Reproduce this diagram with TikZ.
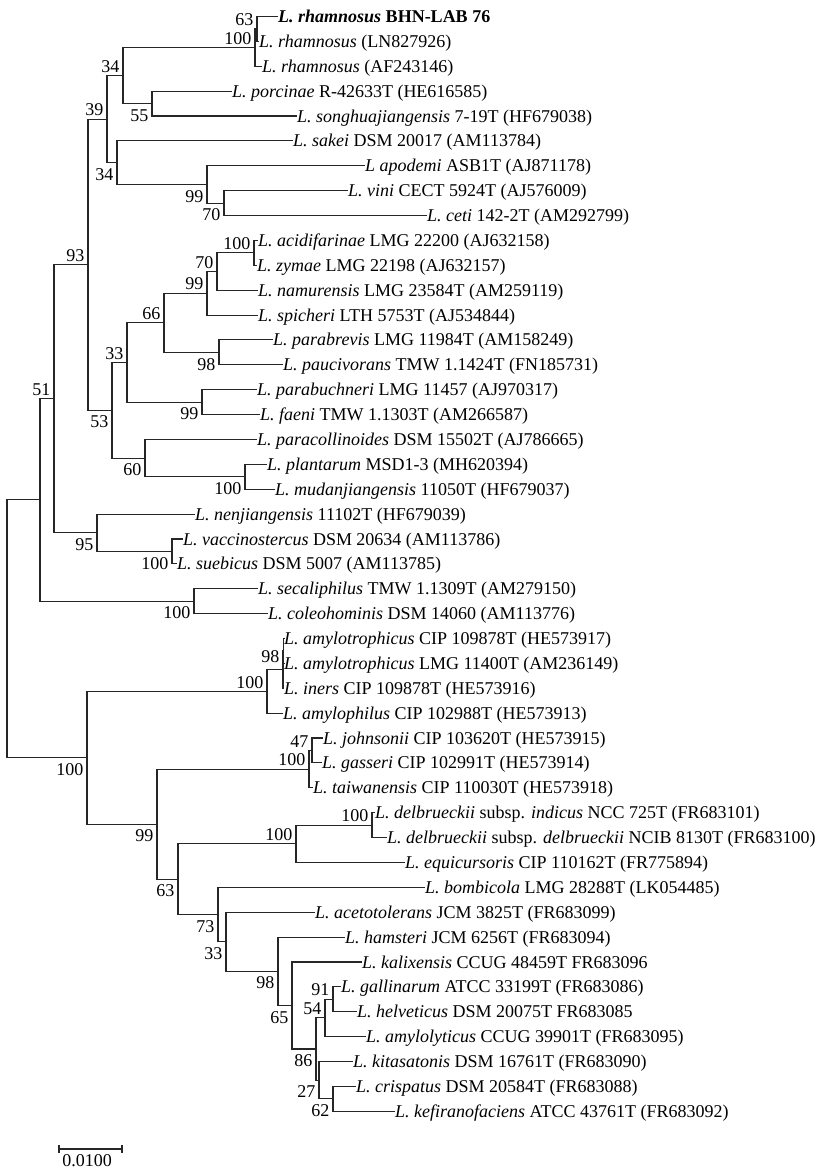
\documentclass[tikz,border=0pt]{standalone}
\usepackage{fontspec}
\setmainfont{Liberation Serif}
\usepackage{tikz}
\usetikzlibrary{positioning}
\newcommand{\lac}[1]{\textit{L. #1}}

\begin{document}
\begin{tikzpicture}[x=1pt,y=-1pt]
            \tikzstyle{every node}=[font=\fontsize{18}{21}\selectfont]
            \tikzstyle{branch}=[line width=1.1pt, black!85]
            \tikzstyle{leaf}=[anchor=west, inner sep=0pt, text height=12pt, text depth=0pt]
            \tikzstyle{bsup}=[anchor=south east, inner sep=0pt, xshift=-3.5pt, yshift=3pt]
            \tikzstyle{bsdown}=[anchor=north east, inner sep=0pt, xshift=-3.5pt, yshift=-5.5pt]

            \useasboundingbox (0,0) rectangle (827,1171);

            \node[leaf] (rhaBHN) at (278,16.5) {\textbf{\lac{rhamnosus} BHN-LAB 76}};
            \node[leaf] (rhaLN) at (259,41.4) {\lac{rhamnosus} (LN827926)};
            \node[leaf] (rhaAF) at (262,66.3) {\lac{rhamnosus} (AF243146)};
            \node[leaf] (por) at (232,91.1) {\lac{porcinae} R-42633T (HE616585)};
            \node[leaf] (son) at (297,116.0) {\lac{songhuajiangensis} 7-19T (HF679038)};
            \node[leaf] (sak) at (293,140.9) {\lac{sakei} DSM 20017 (AM113784)};
            \node[leaf] (apo) at (365,165.8) {\textit{L apodemi} ASB1T (AJ871178)};
            \node[leaf] (vin) at (348,190.7) {\lac{vini} CECT 5924T (AJ576009)};
            \node[leaf] (cet) at (427,215.5) {\lac{ceti} 142-2T (AM292799)};
            \node[leaf] (aci) at (258,240.4) {\lac{acidifarinae} LMG 22200 (AJ632158)};
            \node[leaf] (zym) at (257,265.3) {\lac{zymae} LMG 22198 (AJ632157)};
            \node[leaf] (nam) at (258,290.2) {\lac{namurensis} LMG 23584T (AM259119)};
            \node[leaf] (spi) at (258,315.1) {\lac{spicheri} LTH 5753T (AJ534844)};
            \node[leaf] (pbr) at (273,339.9) {\lac{parabrevis} LMG 11984T (AM158249)};
            \node[leaf] (pau) at (283,364.8) {\lac{paucivorans} TMW 1.1424T (FN185731)};
            \node[leaf] (pbu) at (257,389.7) {\lac{parabuchneri} LMG 11457 (AJ970317)};
            \node[leaf] (fae) at (260,414.6) {\lac{faeni} TMW 1.1303T (AM266587)};
            \node[leaf] (pco) at (257,439.5) {\lac{paracollinoides} DSM 15502T (AJ786665)};
            \node[leaf] (pla) at (267,464.3) {\lac{plantarum} MSD1-3 (MH620394)};
            \node[leaf] (mud) at (275,489.2) {\lac{mudanjiangensis} 11050T (HF679037)};
            \node[leaf] (nen) at (195,514.1) {\lac{nenjiangensis} 11102T (HF679039)};
            \node[leaf] (vac) at (183,539.0) {\lac{vaccinostercus} DSM 20634 (AM113786)};
            \node[leaf] (sue) at (177,563.9) {\lac{suebicus} DSM 5007 (AM113785)};
            \node[leaf] (sec) at (258,588.7) {\lac{secaliphilus} TMW 1.1309T (AM279150)};
            \node[leaf] (col) at (268,613.6) {\lac{coleohominis} DSM 14060 (AM113776)};
            \node[leaf] (amtC) at (284,638.5) {\lac{amylotrophicus} CIP 109878T (HE573917)};
            \node[leaf] (amtL) at (284,663.4) {\lac{amylotrophicus} LMG 11400T (AM236149)};
            \node[leaf] (ine) at (284,688.3) {\lac{iners} CIP 109878T (HE573916)};
            \node[leaf] (amp) at (283,713.2) {\lac{amylophilus} CIP 102988T (HE573913)};
            \node[leaf] (joh) at (323,738.0) {\lac{johnsonii} CIP 103620T (HE573915)};
            \node[leaf] (gas) at (322,762.9) {\lac{gasseri} CIP 102991T (HE573914)};
            \node[leaf] (tai) at (313,787.8) {\lac{taiwanensis} CIP 110030T (HE573918)};
            \node[leaf] (dind) at (375,812.7) {\lac{delbrueckii} subsp. \textit{indicus} NCC 725T (FR683101)};
            \node[leaf] (ddel) at (387,837.6) {\lac{delbrueckii} subsp. \textit{delbrueckii} NCIB 8130T (FR683100)};
            \node[leaf] (equ) at (405,862.4) {\lac{equicursoris} CIP 110162T (FR775894)};
            \node[leaf] (bom) at (425,887.3) {\lac{bombicola} LMG 28288T (LK054485)};
            \node[leaf] (ace) at (315,912.2) {\lac{acetotolerans} JCM 3825T (FR683099)};
            \node[leaf] (ham) at (345,937.1) {\lac{hamsteri} JCM 6256T (FR683094)};
            \node[leaf] (kal) at (362,962.0) {\lac{kalixensis} CCUG 48459T FR683096};
            \node[leaf] (gal) at (341,986.8) {\lac{gallinarum} ATCC 33199T (FR683086)};
            \node[leaf] (hel) at (357,1011.7) {\lac{helveticus} DSM 20075T FR683085};
            \node[leaf] (aml) at (366,1036.6) {\lac{amylolyticus} CCUG 39901T (FR683095)};
            \node[leaf] (kit) at (353,1061.5) {\lac{kitasatonis} DSM 16761T (FR683090)};
            \node[leaf] (cri) at (356,1086.4) {\lac{crispatus} DSM 20584T (FR683088)};
            \node[leaf] (kef) at (395,1111.2) {\lac{kefiranofaciens} ATCC 43761T (FR683092)};

            \coordinate (n63a) at (257,29.0);
            \coordinate (n100a) at (255,47.6);
            \coordinate (n55) at (152,103.6);
            \coordinate (n34a) at (123,75.6);
            \coordinate (n70a) at (224,203.1);
            \coordinate (n99a) at (207,184.5);
            \coordinate (n34b) at (117,162.7);
            \coordinate (n39) at (107,119.1);
            \coordinate (n100b) at (254,252.9);
            \coordinate (n70b) at (217,271.5);
            \coordinate (n99b) at (207,293.3);
            \coordinate (n98a) at (219,352.4);
            \coordinate (n66) at (164,322.8);
            \coordinate (n99c) at (202,402.1);
            \coordinate (n33a) at (127,362.5);
            \coordinate (n100c) at (245,476.8);
            \coordinate (n60) at (145,458.1);
            \coordinate (n53) at (112,410.3);
            \coordinate (n93) at (88,264.7);
            \coordinate (n100d) at (172,551.4);
            \coordinate (n95) at (97,532.8);
            \coordinate (n51) at (54,398.7);
            \coordinate (n100e) at (194,601.2);
            \coordinate (nA) at (40,499.9);
            \coordinate (nAm) at (283.8,651.0);
            \coordinate (n98b) at (283,669.6);
            \coordinate (n100f) at (267,691.4);
            \coordinate (n47) at (312,750.5);
            \coordinate (n100g) at (309,769.1);
            \coordinate (n100h) at (372,825.1);
            \coordinate (n100i) at (296,843.8);
            \coordinate (n91) at (333,999.3);
            \coordinate (n54) at (325,1017.9);
            \coordinate (n62) at (333,1098.8);
            \coordinate (n27) at (319,1080.1);
            \coordinate (n86) at (316,1049.0);
            \coordinate (n65) at (292,1005.5);
            \coordinate (n98c) at (278,971.3);
            \coordinate (n33b) at (226,941.8);
            \coordinate (n73) at (218,914.5);
            \coordinate (n63b) at (178,879.2);
            \coordinate (n99d) at (157,824.1);
            \coordinate (n100j) at (87,757.8);
            \coordinate (root) at (7,628.8);

            \draw[branch] (n63a) |- (rhaBHN.west) (n63a) |- (rhaLN.west);
            \draw[branch] (n100a) |- (n63a) (n100a) |- (rhaAF.west);
            \draw[branch] (n34a) |- (n100a) (n34a) |- (n55);
            \draw[branch] (n55) |- (por.west) (n55) |- (son.west);
            \draw[branch] (n39) |- (n34a) (n39) |- (n34b);
            \draw[branch] (n34b) |- (sak.west) (n34b) |- (n99a);
            \draw[branch] (n99a) |- (apo.west) (n99a) |- (n70a);
            \draw[branch] (n70a) |- (vin.west) (n70a) |- (cet.west);
            \draw[branch] (n93) |- (n39) (n93) |- (n53);
            \draw[branch] (n53) |- (n33a) (n53) |- (n60);
            \draw[branch] (n33a) |- (n66) (n33a) |- (n99c);
            \draw[branch] (n66) |- (n99b) (n66) |- (n98a);
            \draw[branch] (n99b) |- (n70b) (n99b) |- (spi.west);
            \draw[branch] (n70b) |- (n100b) (n70b) |- (nam.west);
            \draw[branch] (n100b) |- (aci.west) (n100b) |- (zym.west);
            \draw[branch] (n98a) |- (pbr.west) (n98a) |- (pau.west);
            \draw[branch] (n99c) |- (pbu.west) (n99c) |- (fae.west);
            \draw[branch] (n60) |- (pco.west) (n60) |- (n100c);
            \draw[branch] (n100c) |- (pla.west) (n100c) |- (mud.west);
            \draw[branch] (n51) |- (n93) (n51) |- (n95);
            \draw[branch] (n95) |- (nen.west) (n95) |- (n100d);
            \draw[branch] (n100d) |- (vac.west) (n100d) |- (sue.west);
            \draw[branch] (nA) |- (n51) (nA) |- (n100e);
            \draw[branch] (n100e) |- (sec.west) (n100e) |- (col.west);
            \draw[branch] (root) |- (nA) (root) |- (n100j);
            \draw[branch] (n100j) |- (n100f) (n100j) |- (n99d);
            \draw[branch] (n100f) |- (n98b) (n100f) |- (amp.west);
            \draw[branch] (n98b) |- (nAm) (n98b) |- (ine.west);
            \draw[branch] (nAm) |- (amtC.west) (nAm) |- (amtL.west);
            \draw[branch] (n99d) |- (n100g) (n99d) |- (n63b);
            \draw[branch] (n100g) |- (n47) (n100g) |- (tai.west);
            \draw[branch] (n47) |- (joh.west) (n47) |- (gas.west);
            \draw[branch] (n63b) |- (n100i) (n63b) |- (n73);
            \draw[branch] (n100i) |- (n100h) (n100i) |- (equ.west);
            \draw[branch] (n100h) |- (dind.west) (n100h) |- (ddel.west);
            \draw[branch] (n73) |- (bom.west) (n73) |- (n33b);
            \draw[branch] (n33b) |- (ace.west) (n33b) |- (n98c);
            \draw[branch] (n98c) |- (ham.west) (n98c) |- (n65);
            \draw[branch] (n65) |- (kal.west) (n65) |- (n86);
            \draw[branch] (n86) |- (n54) (n86) |- (n27);
            \draw[branch] (n54) |- (n91) (n54) |- (aml.west);
            \draw[branch] (n91) |- (gal.west) (n91) |- (hel.west);
            \draw[branch] (n27) |- (kit.west) (n27) |- (n62);
            \draw[branch] (n62) |- (cri.west) (n62) |- (kef.west);

            \node[bsup] (b63a) at (n63a) {63};
            \node[bsup] (b100a) at (n100a) {100};
            \node[bsup] (b34a) at (n34a) {34};
            \node[bsdown] (b55) at (n55) {55};
            \node[bsup] (b39) at (n39) {39};
            \node[bsdown] (b34b) at (n34b) {34};
            \node[bsdown] (b99a) at (n99a) {99};
            \node[bsdown] (b70a) at (n70a) {70};
            \node[bsup] (b100b) at (n100b) {100};
            \node[bsup] (b70b) at (n70b) {70};
            \node[bsup] (b99b) at (n99b) {99};
            \node[bsup] (b66) at (n66) {66};
            \node[bsup] (b33a) at (n33a) {33};
            \node[bsdown] (b98a) at (n98a) {98};
            \node[bsdown] (b99c) at (n99c) {99};
            \node[bsup] (b93) at (n93) {93};
            \node[bsdown] (b53) at (n53) {53};
            \node[bsup] (b51) at (n51) {51};
            \node[bsdown] (b60) at (n60) {60};
            \node[bsdown] (b100c) at (n100c) {100};
            \node[bsdown] (b95) at (n95) {95};
            \node[bsdown] (b100d) at (n100d) {100};
            \node[bsdown] (b100e) at (n100e) {100};
            \node[bsup, yshift=4pt] (b98b) at (n98b) {98};
            \node[bsup] (b100f) at (n100f) {100};
            \node[bsdown] (b100j) at (n100j) {100};
            \node[bsup] (b47) at (n47) {47};
            \node[bsup] (b100g) at (n100g) {100};
            \node[bsdown] (b99d) at (n99d) {99};
            \node[bsup] (b100i) at (n100i) {100};
            \node[bsup] (b100h) at (n100h) {100};
            \node[bsdown] (b63b) at (n63b) {63};
            \node[bsdown] (b73) at (n73) {73};
            \node[bsdown] (b33b) at (n33b) {33};
            \node[bsdown] (b98c) at (n98c) {98};
            \node[bsdown] (b65) at (n65) {65};
            \node[bsup] (b91) at (n91) {91};
            \node[bsup] (b54) at (n54) {54};
            \node[bsdown] (b86) at (n86) {86};
            \node[bsdown] (b27) at (n27) {27};
            \node[bsdown] (b62) at (n62) {62};

            \coordinate (sbl) at (59,1149);
            \coordinate (sbr) at (122,1149);
            \coordinate (sbm) at (87,1149);
            \draw[branch] (sbl) -- (sbr);
            \draw[branch] ([yshift=4pt]sbl) -- ([yshift=-4pt]sbl);
            \draw[branch] ([yshift=4pt]sbr) -- ([yshift=-4pt]sbr);
            \node[inner sep=0pt, below=5pt of sbm] (sblabel) {0.0100};

        \end{tikzpicture}
\end{document}
